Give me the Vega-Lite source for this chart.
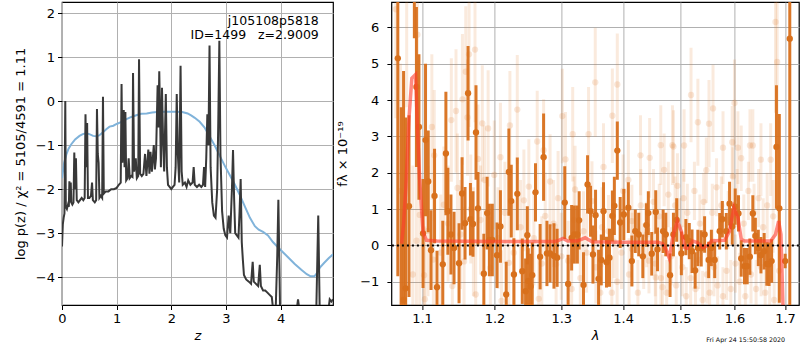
{
  "$schema": "https://vega.github.io/schema/vega-lite/v6.json",
  "padding": {"left": 13, "top": 1, "right": 0, "bottom": 0},
  "bounds": "flush",
  "spacing": 58.4,
  "config": {
    "font": "DejaVu Sans",
    "view": {"stroke": "black", "strokeWidth": 1.2},
    "axis": {
      "labelFont": "DejaVu Sans", "labelFontSize": 13, "labelColor": "black",
      "titleFont": "DejaVu Sans", "titleFontSize": 13, "titleFontWeight": "normal", "titleColor": "black",
      "domain": false, "tickColor": "black", "tickSize": 4.5, "tickWidth": 1, "labelPadding": 3,
      "gridColor": "#b0b0b0", "gridWidth": 1, "gridOpacity": 1, "labelFlush": false, "labelOverlap": false
    }
  },
  "datasets": {
    "blue": [
      {"z":0,"lp":-1.75},{"z":0.01,"lp":-1.66},{"z":0.04,"lp":-1.4},{"z":0.08,"lp":-1.21},{"z":0.12,"lp":-1.08},{"z":0.17,"lp":-0.98},{"z":0.24,"lp":-0.87},{"z":0.32,"lp":-0.79},{"z":0.38,"lp":-0.75},{"z":0.44,"lp":-0.73},{"z":0.5,"lp":-0.75},{"z":0.57,"lp":-0.79},{"z":0.63,"lp":-0.8},{"z":0.68,"lp":-0.78},{"z":0.75,"lp":-0.71},{"z":0.81,"lp":-0.64},{"z":0.87,"lp":-0.58},{"z":0.94,"lp":-0.56},{"z":1.0,"lp":-0.52},{"z":1.09,"lp":-0.47},{"z":1.18,"lp":-0.41},{"z":1.27,"lp":-0.36},{"z":1.36,"lp":-0.32},{"z":1.45,"lp":-0.29},{"z":1.55,"lp":-0.28},{"z":1.65,"lp":-0.26},{"z":1.79,"lp":-0.24},{"z":1.9,"lp":-0.24},{"z":2.0,"lp":-0.24},{"z":2.1,"lp":-0.24},{"z":2.2,"lp":-0.25},{"z":2.3,"lp":-0.28},{"z":2.37,"lp":-0.33},{"z":2.43,"lp":-0.38},{"z":2.52,"lp":-0.47},{"z":2.61,"lp":-0.6},{"z":2.7,"lp":-0.8},{"z":2.8,"lp":-1.02},{"z":2.89,"lp":-1.25},{"z":2.98,"lp":-1.47},{"z":3.07,"lp":-1.68},{"z":3.16,"lp":-1.89},{"z":3.25,"lp":-2.12},{"z":3.35,"lp":-2.4},{"z":3.44,"lp":-2.65},{"z":3.53,"lp":-2.84},{"z":3.6,"lp":-2.92},{"z":3.68,"lp":-2.97},{"z":3.77,"lp":-3.05},{"z":3.86,"lp":-3.2},{"z":3.96,"lp":-3.33},{"z":4.1,"lp":-3.5},{"z":4.26,"lp":-3.7},{"z":4.38,"lp":-3.83},{"z":4.48,"lp":-3.93},{"z":4.55,"lp":-3.98},{"z":4.62,"lp":-3.98},{"z":4.67,"lp":-3.9},{"z":4.72,"lp":-3.78},{"z":4.8,"lp":-3.67},{"z":4.88,"lp":-3.57},{"z":4.96,"lp":-3.48}
    ],
    "black": [
      {"z":0.0,"lp":-3.3},{"z":0.015,"lp":-2.8},{"z":0.03,"lp":-2.65},{"z":0.045,"lp":-2.55},{"z":0.06,"lp":0.0},{"z":0.07,"lp":-2.4},{"z":0.09,"lp":-2.45},{"z":0.11,"lp":-2.35},{"z":0.125,"lp":-2.4},{"z":0.135,"lp":-1.82},{"z":0.145,"lp":-2.3},{"z":0.16,"lp":-1.85},{"z":0.17,"lp":-2.3},{"z":0.19,"lp":-2.35},{"z":0.21,"lp":-2.3},{"z":0.225,"lp":-1.17},{"z":0.24,"lp":-2.0},{"z":0.255,"lp":-1.3},{"z":0.27,"lp":-2.25},{"z":0.3,"lp":-2.3},{"z":0.33,"lp":-2.25},{"z":0.36,"lp":-2.2},{"z":0.39,"lp":-2.25},{"z":0.415,"lp":-2.2},{"z":0.43,"lp":-0.3},{"z":0.445,"lp":-1.5},{"z":0.46,"lp":-0.5},{"z":0.475,"lp":-2.2},{"z":0.5,"lp":-2.2},{"z":0.53,"lp":-2.15},{"z":0.55,"lp":-1.85},{"z":0.565,"lp":-2.25},{"z":0.6,"lp":-2.3},{"z":0.625,"lp":-2.25},{"z":0.64,"lp":-0.18},{"z":0.655,"lp":-1.2},{"z":0.67,"lp":-1.4},{"z":0.685,"lp":-2.2},{"z":0.71,"lp":-2.15},{"z":0.735,"lp":-2.2},{"z":0.75,"lp":0.1},{"z":0.765,"lp":-2.1},{"z":0.8,"lp":-2.05},{"z":0.85,"lp":-2.05},{"z":0.9,"lp":-2.0},{"z":0.95,"lp":-2.0},{"z":1.0,"lp":-1.97},{"z":1.04,"lp":-1.9},{"z":1.075,"lp":-1.85},{"z":1.09,"lp":0.39},{"z":1.105,"lp":-1.4},{"z":1.13,"lp":-0.2},{"z":1.145,"lp":-1.5},{"z":1.16,"lp":-0.25},{"z":1.175,"lp":-1.8},{"z":1.2,"lp":-1.75},{"z":1.22,"lp":-1.3},{"z":1.24,"lp":-1.75},{"z":1.27,"lp":-1.7},{"z":1.29,"lp":-1.72},{"z":1.3,"lp":0.64},{"z":1.32,"lp":-1.6},{"z":1.35,"lp":-1.3},{"z":1.37,"lp":-1.75},{"z":1.395,"lp":-1.7},{"z":1.41,"lp":0.95},{"z":1.43,"lp":-1.65},{"z":1.46,"lp":-1.7},{"z":1.49,"lp":-1.65},{"z":1.52,"lp":-1.2},{"z":1.545,"lp":-1.7},{"z":1.58,"lp":-1.1},{"z":1.6,"lp":-1.65},{"z":1.62,"lp":-1.15},{"z":1.645,"lp":-1.6},{"z":1.68,"lp":-1.0},{"z":1.7,"lp":-1.55},{"z":1.72,"lp":-1.3},{"z":1.75,"lp":0.36},{"z":1.765,"lp":-0.6},{"z":1.78,"lp":0.68},{"z":1.795,"lp":-0.3},{"z":1.81,"lp":-1.5},{"z":1.83,"lp":0.3},{"z":1.85,"lp":-0.9},{"z":1.87,"lp":-1.6},{"z":1.9,"lp":0.16},{"z":1.92,"lp":-1.5},{"z":1.94,"lp":-1.9},{"z":1.97,"lp":-1.95},{"z":2.0,"lp":-2.0},{"z":2.03,"lp":-1.95},{"z":2.06,"lp":-1.9},{"z":2.08,"lp":-1.5},{"z":2.1,"lp":0.16},{"z":2.12,"lp":-1.2},{"z":2.145,"lp":-1.85},{"z":2.17,"lp":0.8},{"z":2.19,"lp":-1.6},{"z":2.21,"lp":-1.9},{"z":2.25,"lp":-1.85},{"z":2.28,"lp":-1.95},{"z":2.31,"lp":-1.8},{"z":2.35,"lp":-1.9},{"z":2.39,"lp":-1.85},{"z":2.41,"lp":-1.5},{"z":2.43,"lp":-1.9},{"z":2.47,"lp":-1.95},{"z":2.51,"lp":-1.9},{"z":2.55,"lp":-1.95},{"z":2.58,"lp":-1.9},{"z":2.6,"lp":-1.5},{"z":2.62,"lp":-1.95},{"z":2.64,"lp":-1.3},{"z":2.66,"lp":-0.3},{"z":2.68,"lp":-1.0},{"z":2.7,"lp":1.26},{"z":2.72,"lp":-1.5},{"z":2.75,"lp":-2.3},{"z":2.78,"lp":-2.6},{"z":2.81,"lp":-2.65},{"z":2.84,"lp":-2.0},{"z":2.86,"lp":-0.5},{"z":2.88,"lp":1.37},{"z":2.9,"lp":-1.2},{"z":2.93,"lp":-2.5},{"z":2.96,"lp":-2.9},{"z":2.99,"lp":-3.05},{"z":3.02,"lp":-3.1},{"z":3.05,"lp":-2.6},{"z":3.08,"lp":-3.0},{"z":3.11,"lp":-2.0},{"z":3.13,"lp":-1.11},{"z":3.15,"lp":-2.2},{"z":3.17,"lp":-3.0},{"z":3.2,"lp":-3.05},{"z":3.23,"lp":-3.1},{"z":3.25,"lp":-2.5},{"z":3.27,"lp":-1.77},{"z":3.29,"lp":-3.2},{"z":3.31,"lp":-3.6},{"z":3.33,"lp":-3.95},{"z":3.37,"lp":-4.05},{"z":3.42,"lp":-4.1},{"z":3.46,"lp":-4.15},{"z":3.49,"lp":-3.65},{"z":3.51,"lp":-4.1},{"z":3.55,"lp":-4.15},{"z":3.59,"lp":-4.2},{"z":3.62,"lp":-3.72},{"z":3.64,"lp":-4.2},{"z":3.68,"lp":-4.3},{"z":3.72,"lp":-4.3},{"z":3.76,"lp":-4.35},{"z":3.8,"lp":-4.4},{"z":3.84,"lp":-4.45},{"z":3.87,"lp":-4.8},{"z":3.9,"lp":-5.2},{"z":3.94,"lp":-3.5},{"z":3.96,"lp":-2.24},{"z":3.98,"lp":-3.8},{"z":4.0,"lp":-5.5},{"z":4.1,"lp":-5.8},{"z":4.2,"lp":-5.5},{"z":4.3,"lp":-4.7},{"z":4.32,"lp":-4.5},{"z":4.34,"lp":-4.7},{"z":4.4,"lp":-5.5},{"z":4.55,"lp":-5.8},{"z":4.65,"lp":-5.0},{"z":4.69,"lp":-2.6},{"z":4.72,"lp":-5.0},{"z":4.8,"lp":-5.6},{"z":4.88,"lp":-4.7},{"z":4.9,"lp":-4.5},{"z":4.93,"lp":-4.55},{"z":4.96,"lp":-4.5}
    ],
    "dark": [
      {"l":1.0686,"f":5.15,"e":6.0},{"l":1.073,"f":-2.2,"e":6.0},{"l":1.076,"f":-1.5,"e":6.3},{"l":1.0787,"f":-1.18,"e":4.7},{"l":1.083,"f":1.08,"e":2.5},{"l":1.09,"f":7.5,"e":1.8},{"l":1.0927,"f":4.36,"e":2.2},{"l":1.096,"f":3.26,"e":2.0},{"l":1.1014,"f":0.33,"e":1.5},{"l":1.1047,"f":2.9,"e":2.1},
      {"l":1.1083,"f":1.76,"e":1.4},{"l":1.112,"f":-0.13,"e":1.1},{"l":1.1167,"f":1.36,"e":1.3},{"l":1.12,"f":-1.15,"e":1.0},{"l":1.1278,"f":-0.52,"e":1.2},{"l":1.132,"f":2.53,"e":1.7},{"l":1.1347,"f":0.94,"e":1.2},{"l":1.1389,"f":0.3,"e":1.1},{"l":1.1431,"f":-0.07,"e":1.0},{"l":1.15,"f":-0.49,"e":1.1},{"l":1.1542,"f":1.43,"e":1.0},{"l":1.1583,"f":0.61,"e":1.0},{"l":1.1625,"f":4.19,"e":1.3},{"l":1.1658,"f":0.72,"e":1.0},{"l":1.1694,"f":0.59,"e":0.9},{"l":1.1736,"f":3.11,"e":1.3},{"l":1.1764,"f":1.02,"e":1.0},{"l":1.1847,"f":-0.78,"e":1.1},{"l":1.1894,"f":0.89,"e":1.0},{"l":1.1926,"f":0.15,"e":1.0},{"l":1.1968,"f":0.15,"e":1.0},{"l":1.2036,"f":-0.27,"e":0.9},{"l":1.2085,"f":0.52,"e":1.0},{"l":1.2169,"f":-1.35,"e":0.9},{"l":1.2208,"f":2.02,"e":1.2},{"l":1.2243,"f":1.22,"e":1.0},{"l":1.2282,"f":-0.8,"e":1.0},{"l":1.2332,"f":1.42,"e":1.0},{"l":1.2406,"f":-0.71,"e":0.9},{"l":1.2455,"f":-1.26,"e":0.9},{"l":1.2495,"f":-0.98,"e":0.9},
      {"l":1.2481,"f":0.28,"e":0.8},{"l":1.253,"f":-1.13,"e":0.9},{"l":1.2555,"f":-0.82,"e":0.9},{"l":1.2604,"f":1.46,"e":0.8},{"l":1.2674,"f":-0.31,"e":0.9},{"l":1.2727,"f":2.43,"e":1.2},{"l":1.2778,"f":-0.22,"e":0.9},{"l":1.2826,"f":-0.22,"e":0.8},{"l":1.2886,"f":-0.29,"e":0.9},{"l":1.2935,"f":-0.34,"e":0.8},{"l":1.3054,"f":1.18,"e":1.0},{"l":1.3107,"f":-1.06,"e":0.8},{"l":1.3162,"f":0.21,"e":0.9},{"l":1.3205,"f":0.3,"e":0.8},{"l":1.3253,"f":0.3,"e":0.8},{"l":1.3281,"f":0.69,"e":0.8},{"l":1.3351,"f":-1.09,"e":0.9},{"l":1.3416,"f":1.68,"e":0.8},{"l":1.3464,"f":0.94,"e":0.7},{"l":1.3503,"f":-0.25,"e":0.8},{"l":1.3545,"f":0.83,"e":0.7},{"l":1.3594,"f":-0.92,"e":0.8},{"l":1.3638,"f":-0.4,"e":0.7},{"l":1.3675,"f":0.94,"e":0.8},{"l":1.3724,"f":-0.46,"e":0.7},{"l":1.3773,"f":-0.34,"e":0.8},{"l":1.3821,"f":0.81,"e":0.7},{"l":1.3854,"f":1.09,"e":0.8},{"l":1.3903,"f":2.61,"e":0.8},{"l":1.3951,"f":0.63,"e":0.7},{"l":1.4012,"f":0.85,"e":0.7},{"l":1.4088,"f":1.04,"e":0.7},{"l":1.4148,"f":-0.43,"e":0.7},{"l":1.4206,"f":0.39,"e":0.6},{"l":1.4265,"f":0.3,"e":0.6},{"l":1.4335,"f":-0.3,"e":0.6},{"l":1.4395,"f":0.56,"e":0.6},{"l":1.443,"f":0.89,"e":0.6},{"l":1.4489,"f":-0.23,"e":0.6},{"l":1.4559,"f":0.92,"e":0.6},{"l":1.4589,"f":-0.11,"e":0.6},{"l":1.4688,"f":0.39,"e":0.6},
      {"l":1.4735,"f":0.3,"e":0.6},{"l":1.4811,"f":-0.82,"e":0.6},{"l":1.4871,"f":0.3,"e":0.6},{"l":1.4929,"f":0.7,"e":0.6},{"l":1.5013,"f":-0.22,"e":0.6},{"l":1.5094,"f":0.23,"e":0.5},{"l":1.5156,"f":0.12,"e":0.5},{"l":1.5206,"f":-0.16,"e":0.6},{"l":1.5263,"f":-0.69,"e":0.5},{"l":1.5313,"f":-0.07,"e":0.5},{"l":1.5375,"f":-0.08,"e":0.5},{"l":1.5437,"f":0.3,"e":0.5},{"l":1.5512,"f":-0.4,"e":0.5},{"l":1.5563,"f":-0.07,"e":0.5},{"l":1.5625,"f":-0.4,"e":0.5},{"l":1.5719,"f":0.39,"e":0.5},{"l":1.5769,"f":0.72,"e":0.5},{"l":1.5844,"f":0.39,"e":0.5},{"l":1.5906,"f":1.15,"e":0.6},{"l":1.5957,"f":0.52,"e":0.5},{"l":1.6014,"f":1.07,"e":0.5},{"l":1.6077,"f":0.88,"e":0.5},{"l":1.613,"f":-0.36,"e":0.5},{"l":1.6193,"f":-0.57,"e":0.5},{"l":1.6246,"f":-0.57,"e":0.5},{"l":1.6298,"f":-0.31,"e":0.5},{"l":1.6356,"f":0.88,"e":0.5},{"l":1.6406,"f":0.26,"e":0.5},{"l":1.6464,"f":-0.07,"e":0.5},{"l":1.6516,"f":-0.27,"e":0.5},{"l":1.658,"f":-0.16,"e":0.5},{"l":1.6633,"f":-0.51,"e":0.6},{"l":1.6677,"f":-0.52,"e":0.6},{"l":1.6729,"f":-0.43,"e":0.6},{"l":1.6826,"f":2.71,"e":1.7},{"l":1.6884,"f":1.02,"e":2.6},{"l":1.7003,"f":-0.43,"e":0.2},{"l":1.7097,"f":5.69,"e":8.0}
    ],
    "faint": [
      {"l":1.066,"f":6.5,"e":3.0},{"l":1.072,"f":1.5,"e":3.5},{"l":1.08,"f":6.8,"e":3.0},{"l":1.088,"f":-0.8,"e":3.0},{"l":1.094,"f":5.8,"e":2.5},
      {"l":1.1722,"f":5.39,"e":2.0},{"l":1.1639,"f":5.26,"e":2.0},{"l":1.1593,"f":4.78,"e":1.8},{"l":1.1547,"f":4.02,"e":1.8},{"l":1.1458,"f":3.7,"e":1.7},{"l":1.1394,"f":3.45,"e":1.7},{"l":1.1131,"f":3.26,"e":2.0},{"l":1.1617,"f":3.52,"e":1.6},{"l":1.1825,"f":3.36,"e":1.6},{"l":1.1908,"f":3.22,"e":1.6},{"l":1.2332,"f":3.74,"e":1.5},{"l":1.2223,"f":3.3,"e":1.5},{"l":1.2085,"f":2.43,"e":1.5},{"l":1.1764,"f":2.38,"e":1.5},{"l":1.1163,"f":2.48,"e":1.8},{"l":1.1857,"f":1.8,"e":1.5},{"l":1.1996,"f":1.94,"e":1.5},{"l":1.1478,"f":1.58,"e":1.5},{"l":1.1292,"f":1.12,"e":1.6},{"l":1.097,"f":0.84,"e":2.5},{"l":1.1663,"f":1.0,"e":1.5},{"l":1.243,"f":1.24,"e":1.4},{"l":1.0927,"f":0.13,"e":2.5},{"l":1.1569,"f":-0.44,"e":1.5},{"l":1.194,"f":-0.62,"e":1.4},{"l":1.1028,"f":-0.82,"e":2.0},{"l":1.1408,"f":-1.12,"e":1.5},{"l":1.1038,"f":-1.48,"e":2.0},{"l":1.1732,"f":-1.35,"e":1.4},{"l":1.21,"f":-1.53,"e":1.4},{"l":1.1151,"f":-0.39,"e":1.8},{"l":1.2208,"f":-0.48,"e":1.4},
      {"l":1.263,"f":2.86,"e":1.4},{"l":1.2727,"f":2.62,"e":1.4},{"l":1.2504,"f":1.62,"e":1.3},{"l":1.2826,"f":1.76,"e":1.3},{"l":1.295,"f":1.3,"e":1.3},{"l":1.3016,"f":3.56,"e":1.3},{"l":1.3065,"f":2.37,"e":1.3},{"l":1.3179,"f":3.06,"e":1.3},{"l":1.3432,"f":3.06,"e":1.3},{"l":1.354,"f":4.49,"e":1.5},{"l":1.3675,"f":2.16,"e":1.2},{"l":1.3821,"f":3.57,"e":1.3},{"l":1.3903,"f":4.43,"e":1.4},{"l":1.4088,"f":1.8,"e":1.1},{"l":1.4295,"f":2.48,"e":1.1},{"l":1.4453,"f":2.41,"e":1.1},{"l":1.4647,"f":2.76,"e":1.1},{"l":1.4148,"f":0.67,"e":1.0},{"l":1.3487,"f":1.22,"e":1.1},{"l":1.3216,"f":1.54,"e":1.2},{"l":1.2752,"f":0.81,"e":1.2},{"l":1.2653,"f":-1.47,"e":1.2},{"l":1.3162,"f":-1.2,"e":1.1},{"l":1.3622,"f":-1.3,"e":1.1},{"l":1.3812,"f":-1.3,"e":1.0},{"l":1.3974,"f":-0.2,"e":1.0},{"l":1.3107,"f":-0.42,"e":1.1},{"l":1.2919,"f":-0.52,"e":1.1},{"l":1.3351,"f":0.39,"e":1.1},{"l":1.3757,"f":0.39,"e":1.0},{"l":1.4441,"f":-0.42,"e":0.9},{"l":1.4559,"f":-0.88,"e":0.9},{"l":1.4677,"f":-1.15,"e":0.9},
      {"l":1.5188,"f":4.14,"e":1.3},{"l":1.5313,"f":3.39,"e":1.2},{"l":1.5594,"f":3.77,"e":1.2},{"l":1.5519,"f":3.35,"e":1.2},{"l":1.4853,"f":2.76,"e":1.1},{"l":1.6,"f":3.92,"e":1.2},{"l":1.6356,"f":2.75,"e":1.0},{"l":1.6807,"f":6.15,"e":2.5},{"l":1.684,"f":5.05,"e":2.5},{"l":1.5782,"f":2.69,"e":1.0},{"l":1.5957,"f":2.84,"e":1.0},{"l":1.6066,"f":2.69,"e":1.0},{"l":1.63,"f":2.75,"e":1.0},{"l":1.4871,"f":2.72,"e":1.0},{"l":1.5062,"f":2.75,"e":1.0},{"l":1.6516,"f":2.36,"e":1.0},{"l":1.671,"f":2.36,"e":1.0},{"l":1.4706,"f":2.08,"e":1.0},{"l":1.4942,"f":1.64,"e":0.9},{"l":1.5469,"f":2.07,"e":0.9},{"l":1.613,"f":2.4,"e":0.9},
      {"l":1.452,"f":1.2,"e":0.9},{"l":1.462,"f":0.8,"e":0.9},{"l":1.478,"f":1.4,"e":0.9},{"l":1.49,"f":1.1,"e":0.8},{"l":1.498,"f":0.5,"e":0.8},{"l":1.505,"f":1.3,"e":0.8},{"l":1.512,"f":0.9,"e":0.8},{"l":1.525,"f":1.5,"e":0.8},{"l":1.535,"f":0.6,"e":0.8},{"l":1.542,"f":1.2,"e":0.8},{"l":1.558,"f":0.9,"e":0.8},{"l":1.566,"f":1.6,"e":0.8},{"l":1.575,"f":1.1,"e":0.8},{"l":1.588,"f":0.7,"e":0.8},{"l":1.597,"f":1.9,"e":0.8},{"l":1.605,"f":1.3,"e":0.8},{"l":1.618,"f":0.6,"e":0.8},{"l":1.627,"f":1.5,"e":0.8},{"l":1.638,"f":0.9,"e":0.8},{"l":1.647,"f":1.3,"e":0.8},{"l":1.656,"f":0.5,"e":0.8},{"l":1.664,"f":1.1,"e":0.9},{"l":1.676,"f":0.8,"e":1.0},
      {"l":1.455,"f":-0.5,"e":0.9},{"l":1.465,"f":-0.9,"e":0.9},{"l":1.475,"f":-1.3,"e":0.9},{"l":1.483,"f":-0.3,"e":0.8},{"l":1.492,"f":-1.1,"e":0.8},{"l":1.503,"f":-0.6,"e":0.8},{"l":1.51,"f":-1.4,"e":0.8},{"l":1.518,"f":-0.9,"e":0.8},{"l":1.527,"f":-1.2,"e":0.8},{"l":1.533,"f":-0.4,"e":0.8},{"l":1.54,"f":-1.5,"e":0.8},{"l":1.548,"f":-0.8,"e":0.8},{"l":1.553,"f":-1.3,"e":0.8},{"l":1.561,"f":-0.6,"e":0.8},{"l":1.568,"f":-1.1,"e":0.8},{"l":1.578,"f":-1.4,"e":0.8},{"l":1.585,"f":-0.7,"e":0.8},{"l":1.593,"f":-1.2,"e":0.8},{"l":1.602,"f":-0.5,"e":0.8},{"l":1.61,"f":-1.0,"e":0.8},{"l":1.621,"f":-1.4,"e":0.8},{"l":1.632,"f":-0.8,"e":0.8},{"l":1.642,"f":-1.2,"e":0.8},{"l":1.652,"f":-0.6,"e":0.8},{"l":1.66,"f":-1.3,"e":0.8},{"l":1.669,"f":-0.9,"e":0.9},{"l":1.678,"f":-1.5,"e":1.0},{"l":1.688,"f":-0.7,"e":2.5},
      {"l":1.33,"f":-0.9,"e":1.1},{"l":1.355,"f":-0.6,"e":1.0},{"l":1.39,"f":-1.0,"e":1.0},{"l":1.41,"f":-0.8,"e":1.0},{"l":1.425,"f":-1.3,"e":0.9},{"l":1.435,"f":-0.3,"e":0.9},
      {"l":1.108,"f":0.4,"e":1.8},{"l":1.125,"f":-0.2,"e":1.6},{"l":1.135,"f":0.6,"e":1.6},{"l":1.152,"f":0.3,"e":1.5},{"l":1.17,"f":0.1,"e":1.5},{"l":1.18,"f":0.7,"e":1.5},{"l":1.205,"f":0.2,"e":1.4},{"l":1.215,"f":0.9,"e":1.4},{"l":1.228,"f":-0.2,"e":1.4},{"l":1.238,"f":0.5,"e":1.3},{"l":1.258,"f":0.2,"e":1.3},{"l":1.27,"f":-0.5,"e":1.3},{"l":1.288,"f":0.6,"e":1.2},{"l":1.3,"f":-0.3,"e":1.2},{"l":1.32,"f":0.7,"e":1.2},{"l":1.34,"f":-0.2,"e":1.1},{"l":1.365,"f":0.5,"e":1.1},{"l":1.385,"f":0.1,"e":1.0},{"l":1.4,"f":1.5,"e":1.0},{"l":1.415,"f":-0.1,"e":1.0},{"l":1.43,"f":1.1,"e":1.0},{"l":1.44,"f":0.3,"e":0.9}
    ],
    "model": [
      {"l":1.0735,"f":0.05},{"l":1.076,"f":0.6},{"l":1.079,"f":1.6},{"l":1.083,"f":3.5},{"l":1.0867,"f":4.6},{"l":1.0915,"f":4.7},{"l":1.0945,"f":3.0},{"l":1.097,"f":1.8},{"l":1.1014,"f":0.37},{"l":1.106,"f":0.14},{"l":1.12,"f":0.12},{"l":1.2,"f":0.11},{"l":1.29,"f":0.11},{"l":1.296,"f":0.14},{"l":1.3026,"f":0.19},{"l":1.31,"f":0.12},{"l":1.325,"f":0.12},{"l":1.3378,"f":0.21},{"l":1.3487,"f":0.1},{"l":1.4,"f":0.09},{"l":1.46,"f":0.09},{"l":1.468,"f":0.05},{"l":1.4735,"f":-0.1},{"l":1.4794,"f":-0.34},{"l":1.487,"f":0.3},{"l":1.4941,"f":0.67},{"l":1.5013,"f":0.39},{"l":1.5075,"f":-0.06},{"l":1.5126,"f":-0.08},{"l":1.522,"f":0.12},{"l":1.5313,"f":0.07},{"l":1.5407,"f":-0.06},{"l":1.5501,"f":0.0},{"l":1.5563,"f":0.12},{"l":1.5813,"f":0.14},{"l":1.5906,"f":0.39},{"l":1.5989,"f":1.04},{"l":1.6066,"f":0.76},{"l":1.613,"f":0.17},{"l":1.6193,"f":0.12},{"l":1.671,"f":0.12},{"l":1.6807,"f":0.3},{"l":1.687,"f":0.67},{"l":1.6917,"f":0.3},{"l":1.6955,"f":-1.5},{"l":1.698,"f":-3.0}
    ]
  },
  "hconcat": [
    {
      "width": 271,
      "height": 303,
      "layer": [
        {
          "data": {"name": "blue"},
          "mark": {"type": "line", "color": "#80b3da", "strokeWidth": 2, "clip": true},
          "encoding": {
            "x": {"field": "z", "type": "quantitative", "scale": {"domain": [0, 4.96], "nice": false, "zero": false},
                  "axis": {"values": [0, 1, 2, 3, 4], "format": "d", "title": "z", "titleFontStyle": "italic", "titlePadding": 4}},
            "y": {"field": "lp", "type": "quantitative", "scale": {"domain": [-4.63, 2.25], "nice": false, "zero": false},
                  "axis": {"values": [-4, -3, -2, -1, 0, 1, 2], "format": "d", "title": "log p(z) / χ² = 5105/4591 = 1.11", "titlePadding": 8}}
          }
        },
        {
          "data": {"name": "black"},
          "mark": {"type": "line", "color": "#383838", "strokeWidth": 2, "clip": true},
          "encoding": {
            "x": {"field": "z", "type": "quantitative"},
            "y": {"field": "lp", "type": "quantitative"}
          }
        },
        {
          "data": {"values": [{"z": 4.7, "lp": 1.73, "t": "j105108p5818"}, {"z": 4.7, "lp": 1.42, "t": "ID=1499\u00a0\u00a0\u00a0z=2.9009"}]},
          "mark": {"type": "text", "align": "right", "baseline": "alphabetic", "fontSize": 12.5, "color": "black", "font": "DejaVu Sans"},
          "encoding": {
            "x": {"field": "z", "type": "quantitative"},
            "y": {"field": "lp", "type": "quantitative"},
            "text": {"field": "t"}
          }
        }
      ]
    },
    {
      "width": 407.5,
      "height": 303,
      "layer": [
        {
          "data": {"name": "faint"},
          "mark": {"type": "errorbar", "color": "#e07b2a", "opacity": 0.16, "thickness": 3, "clip": true},
          "encoding": {
            "x": {"field": "l", "type": "quantitative", "title": "λ", "scale": {"type": "log", "domain": [1.0604, 1.7285], "nice": false, "zero": false},
                  "axis": {"values": [1.1, 1.2, 1.3, 1.4, 1.5, 1.6, 1.7], "format": ".1f", "titleFontStyle": "italic", "titlePadding": 4}},
            "y": {"field": "f", "type": "quantitative", "title": "fλ × 10⁻¹⁹", "scale": {"domain": [-1.64, 6.7], "nice": false, "zero": false},
                  "axis": {"values": [-1, 0, 1, 2, 3, 4, 5, 6], "format": "d", "labelPadding": 8, "titlePadding": 10}},
            "yError": {"field": "e"}
          }
        },
        {
          "data": {"name": "faint"},
          "mark": {"type": "point", "filled": true, "color": "#e07b2a", "opacity": 0.18, "size": 40, "clip": true},
          "encoding": {
            "x": {"field": "l", "type": "quantitative", "title": "λ"},
            "y": {"field": "f", "type": "quantitative", "title": "fλ × 10⁻¹⁹"}
          }
        },
        {
          "data": {"name": "dark"},
          "mark": {"type": "errorbar", "color": "#d8701c", "opacity": 0.95, "thickness": 3, "clip": true},
          "encoding": {
            "x": {"field": "l", "type": "quantitative", "title": "λ"},
            "y": {"field": "f", "type": "quantitative", "title": "fλ × 10⁻¹⁹"},
            "yError": {"field": "e"}
          }
        },
        {
          "data": {"name": "dark"},
          "mark": {"type": "point", "filled": true, "color": "#d8701c", "opacity": 1, "size": 40, "clip": true},
          "encoding": {
            "x": {"field": "l", "type": "quantitative", "title": "λ"},
            "y": {"field": "f", "type": "quantitative", "title": "fλ × 10⁻¹⁹"}
          }
        },
        {
          "data": {"name": "model"},
          "mark": {"type": "line", "color": "#ff3b2b", "opacity": 0.6, "strokeWidth": 3.5, "clip": true},
          "encoding": {
            "x": {"field": "l", "type": "quantitative", "title": "λ"},
            "y": {"field": "f", "type": "quantitative", "title": "fλ × 10⁻¹⁹"}
          }
        },
        {
          "data": {"values": [{}]},
          "mark": {"type": "rule", "color": "black", "strokeDash": [2, 3], "strokeWidth": 2},
          "encoding": {"y": {"datum": 0, "title": "fλ × 10⁻¹⁹"}}
        },
        {
          "data": {"values": [{"l": 1.6217, "f": -2.61, "t": "Fri Apr 24 15:50:58 2020"}]},
          "mark": {"type": "text", "align": "center", "baseline": "middle", "fontSize": 6.3, "fill": "black", "font": "DejaVu Sans"},
          "encoding": {
            "x": {"field": "l", "type": "quantitative", "title": "λ"},
            "y": {"field": "f", "type": "quantitative", "title": "fλ × 10⁻¹⁹"},
            "text": {"field": "t"}
          }
        }
      ]
    }
  ]
}
